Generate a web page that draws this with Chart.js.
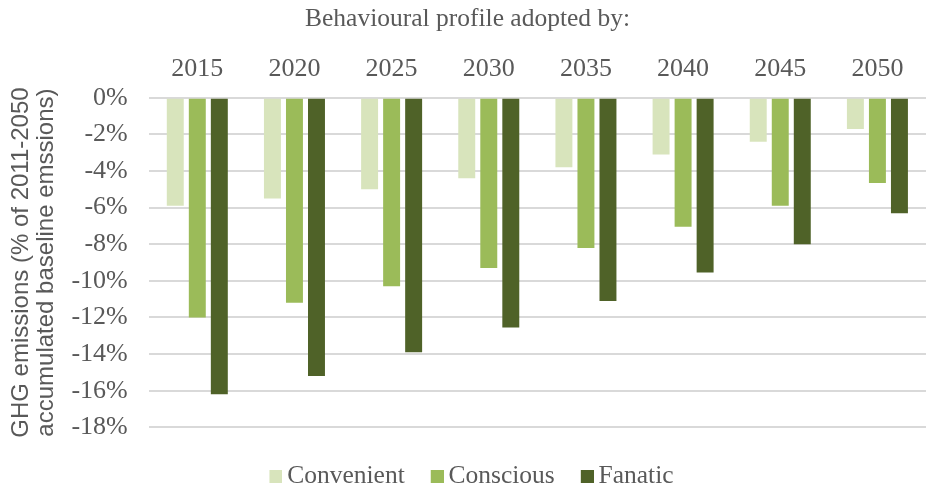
<!DOCTYPE html>
<html>
<head>
<meta charset="utf-8">
<script src="https://cdn.jsdelivr.net/npm/chart.js@4"></script>
<style>
  body { margin: 0; background: #fff; }
  #wrap { width: 927px; height: 490px; }
</style>
</head>
<body>
<div id="wrap"><canvas id="chart"></canvas></div>
<script>
const years = ['2015', '2020', '2025', '2030', '2035', '2040', '2045', '2050'];
const convenient = [-5.9, -5.5, -5.0, -4.4, -3.8, -3.1, -2.4, -1.7];
const conscious = [-12.0, -11.2, -10.3, -9.3, -8.2, -7.05, -5.9, -4.65];
const fanatic = [-16.2, -15.2, -13.9, -12.55, -11.1, -9.55, -8.0, -6.3];
const yTicks = [0, -2, -4, -6, -8, -10, -12, -14, -16, -18];

const grey = '#595959';
const serif = 'Liberation Serif, Times New Roman, serif';

// legend square drawn on the right side of a wider canvas, so it sits close to its text
function legendSquare(color) {
    const c = document.createElement('canvas');
    c.width = 29;
    c.height = 13;
    const g = c.getContext('2d');
    g.fillStyle = color;
    g.fillRect(16, 0, 13, 13);
    return c;
}

const ctx = document.getElementById('chart').getContext('2d');
new Chart(ctx, {
    type: 'bar',
    data: {
        labels: years,
        datasets: [
            { label: 'Convenient', data: convenient, backgroundColor: '#d8e4bc' },
            { label: 'Conscious', data: conscious, backgroundColor: '#9bbb59' },
            { label: 'Fanatic', data: fanatic, backgroundColor: '#4f6228' },
        ],
    },
    options: {
        responsive: true,
        maintainAspectRatio: false,
        animation: false,
        layout: { padding: { left: 9, right: 1, top: 4, bottom: -9 } },
        datasets: {
            bar: { categoryPercentage: 0.68, barPercentage: 0.77 }
        },
        plugins: {
            title: {
                display: true,
                text: 'Behavioural profile adopted by:',
                color: grey,
                font: { family: serif, size: 25.5, weight: 'normal' },
                padding: { top: 0, bottom: 6 },
            },
            legend: {
                position: 'bottom',
                title: {
                    display: true,
                    text: '',
                    font: { size: 1 },
                    padding: { top: 17, bottom: 0 },
                },
                labels: {
                    color: grey,
                    font: { family: serif, size: 25.5 },
                    boxWidth: 13,
                    boxHeight: 13,
                    padding: 18,
                    usePointStyle: true,
                    generateLabels: chart => {
                        const items = Chart.defaults.plugins.legend.labels.generateLabels(chart);
                        items.forEach(item => { item.pointStyle = legendSquare(item.fillStyle); });
                        return items;
                    },
                },
            },
            tooltip: { enabled: false },
        },
        scales: {
            x: {
                position: 'top',
                grid: { display: false, drawTicks: false },
                border: { display: false },
                ticks: {
                    color: grey,
                    font: { family: serif, size: 26 },
                    padding: 13,
                },
            },
            y: {
                min: -18,
                max: 0,
                afterBuildTicks: axis => { axis.ticks = yTicks.map(v => ({ value: v })); },
                grid: { color: '#d9d9d9', lineWidth: 2, drawTicks: false },
                border: { display: false },
                ticks: {
                    color: grey,
                    font: { family: serif, size: 26 },
                    padding: 21,
                    callback: v => v + '%',
                },
                title: {
                    display: true,
                    text: ['GHG emissions (% of 2011-2050', 'accumulated baseline emssions)'],
                    color: grey,
                    font: { family: 'Liberation Sans, Arial, sans-serif', size: 24, lineHeight: 1.05 },
                    padding: { top: 0, bottom: -9 },
                },
            },
        },
    },
});
</script>
</body>
</html>
